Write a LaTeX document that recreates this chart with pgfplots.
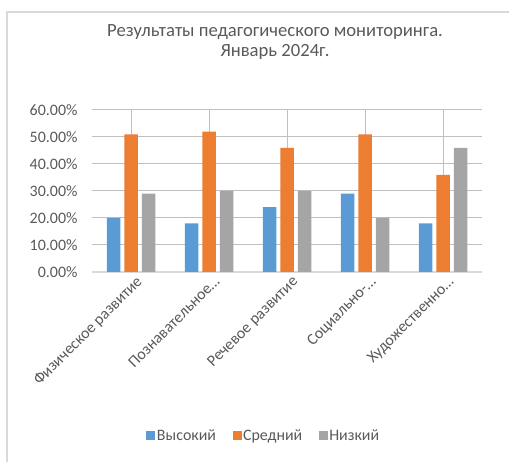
\documentclass[border=0pt]{standalone}
\usepackage{pgfplots}
\pgfplotsset{compat=1.18}
\usepackage{fontspec}
\setmainfont{Carlito}
\definecolor{cblue}{HTML}{5B9BD5}
\definecolor{corange}{HTML}{ED7D31}
\definecolor{cgray}{HTML}{A5A5A5}
\definecolor{txt}{HTML}{595959}
\definecolor{grid}{HTML}{D9D9D9}
\begin{document}
\begin{tikzpicture}[x=1bp,y=1bp]
\useasboundingbox (0,0) rectangle (509,462);
\draw[grid, line width=1.5bp] (7,0) -- (7,450) -- (509,450);
\node[txt, font=\fontsize{18.7}{20}\selectfont, align=center] at (275,420) {Результаты педагогического мониторинга.\\Январь 2024г.};
\begin{axis}[
  at={(92bp,190bp)}, anchor=south west,
  scale only axis, width=390bp, height=162bp,
  ybar=4bp, bar width=13.5bp,
  xmin=-0.5, xmax=4.5, ymin=0, ymax=60,
  xtick=data,
  xticklabels={{Физическое развитие}, {Познавательное…}, {Речевое развитие}, {Социально-…}, {Художественно…}},
  ytick={0,10,20,30,40,50,60},
  yticklabel={\pgfmathprintnumber[fixed,fixed zerofill,precision=2]{\tick}\%},
  /pgf/number format/assume math mode=true,
  ymajorgrids, grid style={grid, line width=1bp},
  axis line style={draw=none},
  major tick length=0pt,
  tick label style={txt, font=\fontsize{16}{18}\selectfont},
  yticklabel style={xshift=-11bp},
  xticklabel style={rotate=45, anchor=north east, inner sep=1bp, yshift=-4bp, xshift=2bp},
  extra y ticks={0}, extra y tick labels={}, extra y tick style={grid style={grid, line width=1.3bp}},
  legend style={at={(0.44,-1.012)}, anchor=center, draw=none, legend columns=3,
    font=\fontsize{16}{18}\selectfont, text=txt,
    nodes={inner xsep=1.5bp}},
  legend image code/.code={\fill[#1] (0bp,-4.5bp) rectangle (9bp,4.5bp);},
]
\addplot[fill=cblue, draw=none] coordinates {(0,20) (1,18) (2,24) (3,29) (4,18)};
\addplot[fill=corange, draw=none] coordinates {(0,51) (1,52) (2,46) (3,51) (4,36)};
\addplot[fill=cgray, draw=none] coordinates {(0,29) (1,30) (2,30) (3,20) (4,46)};
\legend{Высокий\rule{15bp}{0pt}, Средний\rule{15bp}{0pt}, Низкий}
\end{axis}
\end{tikzpicture}
\end{document}
